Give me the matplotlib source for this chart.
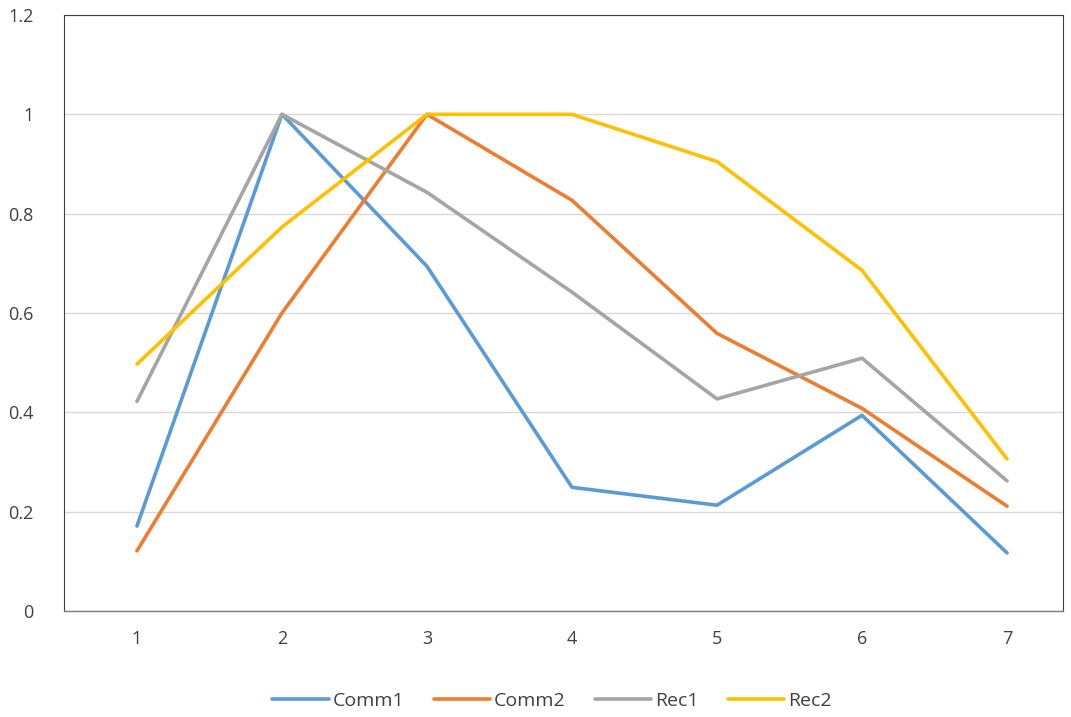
import numpy as np
import matplotlib
matplotlib.use('Agg')
import matplotlib.pyplot as plt

plt.rcParams['font.family'] = ['Open Sans', 'DejaVu Sans']

x = [1, 2, 3, 4, 5, 6, 7]
comm1 = [0.171, 1.0, 0.694, 0.249, 0.213, 0.394, 0.117]
comm2 = [0.121, 0.600, 1.0, 0.827, 0.559, 0.408, 0.211]
rec1 = [0.422, 1.0, 0.843, 0.642, 0.427, 0.509, 0.262]
rec2 = [0.497, 0.773, 1.0, 1.0, 0.905, 0.686, 0.306]

series = [('Comm1', comm1, '#5B9BD5'),
          ('Comm2', comm2, '#ED7D31'),
          ('Rec1', rec1, '#A5A5A5'),
          ('Rec2', rec2, '#FFC000')]

fig = plt.figure(figsize=(10.71, 7.17), dpi=100)
ax = fig.add_axes([64 / 1071, 1 - 611 / 717, (1063 - 64) / 1071, (611 - 15) / 717])

for name, vals, col in series:
    ax.plot(x, vals, color=col, linewidth=2.6, label=name, solid_capstyle='round')

ax.set_ylim(0, 1.2)
ax.set_xlim(0.497, 7.386)
ax.set_yticks(np.arange(0, 1.21, 0.2))
ax.set_yticklabels(['0', '0.2', '0.4', '0.6', '0.8', '1', '1.2'])
ax.set_xticks(x)
ax.grid(axis='y', color='#D9D9D9', linewidth=1)
ax.set_axisbelow(True)
for s in ['left', 'top', 'right']:
    ax.spines[s].set_color('#404040')
    ax.spines[s].set_linewidth(0.8)
ax.spines['bottom'].set_color('#7f7f7f')
ax.spines['bottom'].set_linewidth(1)
ax.tick_params(length=0, labelsize=13, colors='#404040', pad=14)
ax.tick_params(axis='y', pad=22)

fig.legend(loc='center', bbox_to_anchor=(552 / 1071, 1 - 701 / 717), ncol=4, frameon=False,
           fontsize=14, handlelength=2.9, columnspacing=1.5, handletextpad=0.2,
           labelcolor='#404040')

plt.savefig('out.png', dpi=100)
